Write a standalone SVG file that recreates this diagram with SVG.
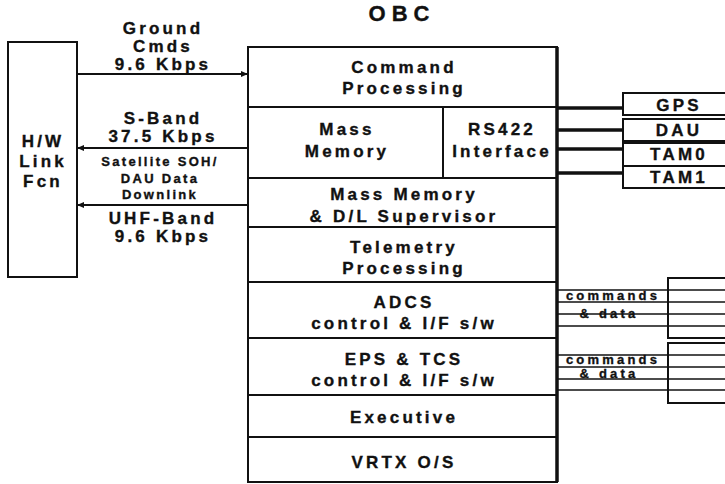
<svg xmlns="http://www.w3.org/2000/svg" width="725" height="484" viewBox="0 0 725 484">
<defs>
<style>
.t{font-family:"Liberation Sans",Arial,sans-serif;font-weight:bold;fill:#111;text-anchor:middle;stroke:#111;stroke-width:0.35;}
.m{font-size:17px;letter-spacing:3.2px;}
.s{font-size:13px;letter-spacing:2.3px;}
.c{font-size:13px;letter-spacing:3.2px;}
.b{fill:#fff;stroke:#111;stroke-width:2;}
.l{stroke:#111;stroke-width:2;fill:none;}
.k{stroke:#111;stroke-width:3.5;fill:none;}
.n{stroke:#111;stroke-width:1.5;fill:none;}
</style>
<marker id="ah" markerWidth="8" markerHeight="8" refX="7" refY="4" orient="auto" markerUnits="userSpaceOnUse">
<path d="M0,1 L7,4 L0,7 Z" fill="#111"/>
</marker>
</defs>
<rect width="725" height="484" fill="#fff"/>

<g id="obc-title"><text class="t" x="402" y="21" font-size="22" letter-spacing="6">OBC</text></g>

<g id="hw-link">
<rect class="b" x="8" y="42" width="69" height="235"/>
<text class="t m" x="43" y="147">H/W</text>
<text class="t m" x="43" y="167">Link</text>
<text class="t m" x="43" y="187">Fcn</text>
</g>

<g id="obc">
<rect class="b" x="248" y="47" width="309" height="435"/>
<line class="k" x1="557" y1="47" x2="557" y2="482"/>
<line class="l" x1="248" y1="107" x2="557" y2="107"/>
<line class="l" x1="443" y1="107" x2="443" y2="178"/>
<line class="l" x1="248" y1="178" x2="557" y2="178"/>
<line class="l" x1="248" y1="227" x2="557" y2="227"/>
<line class="l" x1="248" y1="282" x2="557" y2="282"/>
<line class="l" x1="248" y1="338" x2="557" y2="338"/>
<line class="l" x1="248" y1="395" x2="557" y2="395"/>
<line class="l" x1="248" y1="437" x2="557" y2="437"/>
</g>
<g id="command-processing">
<text class="t m" x="404" y="73">Command</text>
<text class="t m" x="404" y="94">Processing</text>
</g>
<g id="mass-memory">
<text class="t m" x="347" y="135">Mass</text>
<text class="t m" x="347" y="157">Memory</text>
</g>
<g id="rs422">
<text class="t m" x="502" y="135">RS422</text>
<text class="t m" x="502" y="157">Interface</text>
</g>
<g id="mm-supervisor">
<text class="t m" x="404" y="200">Mass Memory</text>
<text class="t m" x="404" y="222">&amp; D/L Supervisor</text>
</g>
<g id="telemetry">
<text class="t m" x="404" y="253">Telemetry</text>
<text class="t m" x="404" y="274">Processing</text>
</g>
<g id="adcs">
<text class="t m" x="404" y="308">ADCS</text>
<text class="t m" x="404" y="329">control &amp; I/F  s/w</text>
</g>
<g id="eps-tcs">
<text class="t m" x="404" y="365">EPS &amp; TCS</text>
<text class="t m" x="404" y="386">control &amp; I/F s/w</text>
</g>
<g id="executive"><text class="t m" x="404" y="423">Executive</text></g>
<g id="vrtx"><text class="t m" x="404" y="468">VRTX O/S</text></g>

<g id="gps"><rect class="b" x="623" y="93" width="110" height="22"/><text class="t m" x="679" y="111">GPS</text></g>
<g id="dau"><rect class="b" x="623" y="119" width="110" height="22"/><text class="t m" x="679" y="136">DAU</text></g>
<g id="tam0"><rect class="b" x="623" y="143" width="110" height="23"/><text class="t m" x="679" y="160">TAM0</text></g>
<g id="tam1"><rect class="b" x="623" y="166" width="110" height="22"/><text class="t m" x="679" y="183">TAM1</text></g>

<g id="adcs-units"><rect class="b" x="668" y="278" width="70" height="60"/></g>
<g id="eps-units"><rect class="b" x="668" y="343" width="70" height="60"/></g>

<g id="connectors">
<line class="l" x1="77" y1="74" x2="248" y2="74" marker-end="url(#ah)"/>
<line class="l" x1="248" y1="148" x2="77" y2="148" marker-end="url(#ah)"/>
<line class="l" x1="248" y1="205" x2="77" y2="205" marker-end="url(#ah)"/>
<line class="k" x1="557" y1="108" x2="623" y2="108"/>
<line class="k" x1="557" y1="130" x2="623" y2="130"/>
<line class="k" x1="557" y1="149" x2="623" y2="149"/>
<line class="k" x1="557" y1="173" x2="623" y2="173"/>
<line class="n" x1="557" y1="290" x2="725" y2="290"/>
<line class="n" x1="557" y1="302" x2="725" y2="302"/>
<line class="n" x1="557" y1="314" x2="725" y2="314"/>
<line class="n" x1="557" y1="326" x2="725" y2="326"/>
<line class="n" x1="557" y1="355" x2="725" y2="355"/>
<line class="n" x1="557" y1="367" x2="725" y2="367"/>
<line class="n" x1="557" y1="379" x2="725" y2="379"/>
<line class="n" x1="557" y1="390" x2="725" y2="390"/>
</g>

<g id="link-labels">
<text class="t m" x="163" y="34">Ground</text>
<text class="t m" x="163" y="52">Cmds</text>
<text class="t m" x="163" y="70">9.6 Kbps</text>
<text class="t m" x="163" y="124">S-Band</text>
<text class="t m" x="163" y="142">37.5 Kbps</text>
<text class="t s" x="160" y="166">Satellite SOH/</text>
<text class="t s" x="160" y="183">DAU Data</text>
<text class="t s" x="160" y="199">Downlink</text>
<text class="t m" x="163" y="224">UHF-Band</text>
<text class="t m" x="163" y="242">9.6 Kbps</text>
</g>
<g id="cmd-labels">
<text class="t c" x="613" y="300">commands</text>
<text class="t c" x="609" y="318">&amp; data</text>
<text class="t c" x="613" y="364">commands</text>
<text class="t c" x="609" y="378">&amp; data</text>
</g>
</svg>
